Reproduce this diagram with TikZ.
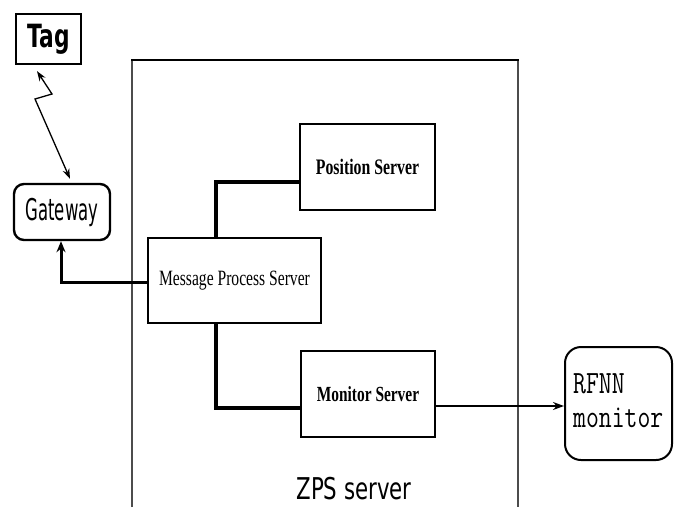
\documentclass[tikz,border=0pt]{standalone}
\usepackage{fontspec}
\usepackage{graphicx}
\setmainfont{Liberation Serif}
\newfontfamily\labsans{DejaVu Sans}
\usetikzlibrary{arrows.meta}
\tikzset{
  box/.style={draw, line width=1.8pt, inner sep=0pt, fill=white},
  rbox/.style={draw, line width=2pt, rounded corners=10pt, inner sep=0pt},
  thickconn/.style={line width=4pt},
  thinarrow/.style={line width=1.5pt, -{Stealth[length=11pt,width=8pt]}},
}
\begin{document}
\begin{tikzpicture}[x=1pt,y=-1pt]
\useasboundingbox (0,0) rectangle (680,507);
% outer ZPS frame
\draw[line width=1.3pt, black!70] (132,507) -- (132,60);
\draw[line width=1.3pt, black!70] (518,60) -- (518,507);
\draw[line width=2.2pt] (131.4,60) -- (518.6,60);
\node (zps) at (354,489) {\labsans\fontsize{30}{30}\selectfont\scalebox{0.71}[1]{ZPS server}};

% nodes
\node[box, line width=2.2pt, minimum width=65, minimum height=50] (tag) at (48.5,39)
  {\labsans\fontsize{32}{32}\selectfont\scalebox{0.68}[1]{\textbf{Tag}}};
\node[rbox, line width=2.4pt, minimum width=96, minimum height=56] (gateway) at (62,212)
  {\labsans\fontsize{30}{30}\selectfont\scalebox{0.55}[1]{Gateway}};
\node[box, minimum width=135, minimum height=86] (pos) at (367.5,167)
  {\bfseries\fontsize{15.8}{16}\selectfont\scalebox{1}[1.4]{Position Server}};
\node[box, minimum width=173, minimum height=85] (mps) at (234.5,280.5)
  {\fontsize{15.6}{16}\selectfont\scalebox{1}[1.4]{Message Process Server}};
\node[box, minimum width=134, minimum height=86] (mon) at (368,394)
  {\bfseries\fontsize{15.4}{16}\selectfont\scalebox{1}[1.4]{Monitor Server}};
\node[rbox, minimum width=107, minimum height=113, rounded corners=16pt] (rfnn) at (618.5,403.5) {};
\node[anchor=base west, inner sep=0pt] (rfnnA) at (573,393)
  {\ttfamily\fontsize{25}{25}\selectfont\scalebox{1}[1.3]{RFNN}};
\node[anchor=base west, inner sep=0pt] (rfnnB) at (573,427)
  {\ttfamily\fontsize{25}{25}\selectfont\scalebox{1}[1.3]{monitor}};

% connectors
\coordinate (j1) at (216,182);
\coordinate (j2) at (216,408);
\coordinate (g1) at (61,282);
\draw[thickconn] (mps.north -| j1) -- (j1) -- (j1 -| pos.west);
\draw[thickconn] (mps.south -| j2) -- (j2) -- (j2 -| mon.west);
\draw[line width=3pt, -{Stealth[length=11pt,width=9pt]}] (mps.west |- g1) -- (g1) -- (g1 |- gateway.south);
\coordinate (z1) at (52,94);
\coordinate (z2) at (35,99);
\draw[line width=1.3pt, {Stealth[length=10pt,width=7pt]}-{Stealth[length=10pt,width=7pt]}]
  ([xshift=-11.5pt,yshift=-6pt]tag.south) -- (z1) -- (z2) -- ([xshift=8pt,yshift=4pt]gateway.north);
\draw[thinarrow] (mon.east |- 0,406) -- (rfnn.west |- 0,406);
\end{tikzpicture}
\end{document}
